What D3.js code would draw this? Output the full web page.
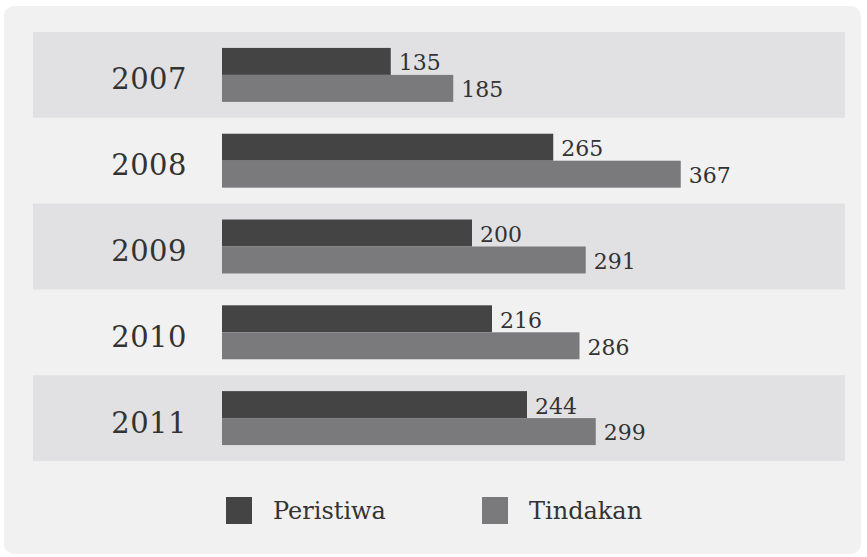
<!DOCTYPE html>
<html>
<head>
  <title>Peristiwa dan Tindakan 2007-2011</title>
  <style>
    body { margin: 0; background: #fff; }
    text { font-family: "DejaVu Serif", serif; fill: #333; }
  </style>
</head>
<body>
  <svg width="867" height="557"></svg>

  <script src="https://cdn.jsdelivr.net/npm/d3@7/dist/d3.min.js"></script>
  <script type="text/javascript">
    var years = ['2007', '2008', '2009', '2010', '2011']
    var series = ['Peristiwa', 'Tindakan']
    var peristiwa = [135, 265, 200, 216, 244]
    var tindakan = [185, 367, 291, 286, 299]
    var colors = ['#444444', '#7a7a7d']

    var svg = d3.select('svg')
    var values = [peristiwa, tindakan]

    // panel
    svg.append('rect')
      .attr('x', 4).attr('y', 6)
      .attr('width', 857).attr('height', 548)
      .attr('rx', 10)
      .attr('fill', '#f1f1f1')

    var y = d3.scaleBand().domain(years).range([32, 461])
    var inner = d3.scaleBand().domain(series).range([0, y.step()]).paddingOuter(0.59)
    var x = d3.scaleLinear().domain([0, 400]).range([222, 722])

    var rows = svg.selectAll('.row')
      .data(years).enter()
      .append('g')
      .attr('class', 'row')
      .attr('transform', d => 'translate(0,' + y(d) + ')')

    rows.filter((d, i) => i % 2 === 0)
      .append('rect')
      .attr('x', 33).attr('width', 812)
      .attr('height', y.bandwidth())
      .attr('fill', '#e1e1e3')

    rows.append('text')
      .attr('x', 187)
      .attr('y', y.bandwidth() / 2 + 4)
      .attr('dy', '0.36em')
      .attr('text-anchor', 'end')
      .attr('font-size', 29)
      .attr('letter-spacing', 0.5)
      .text(d => d)

    series.forEach((s, si) => {
      rows.append('rect')
        .attr('x', x(0))
        .attr('y', inner(s))
        .attr('height', inner.bandwidth())
        .attr('width', (d, i) => x(values[si][i]) - x(0))
        .attr('fill', colors[si])

      rows.append('text')
        .attr('x', (d, i) => x(values[si][i]) + 8)
        .attr('y', inner(s) + inner.bandwidth() / 2 + 1)
        .attr('dy', '0.36em')
        .attr('font-size', 22)
        .text((d, i) => values[si][i])
    })

    // legend
    var legend = svg.selectAll('.legend')
      .data(series).enter()
      .append('g')
      .attr('class', 'legend')
      .attr('transform', (d, i) => 'translate(' + [226, 482][i] + ',497)')

    legend.append('rect')
      .attr('width', 26).attr('height', 27)
      .attr('fill', (d, i) => colors[i])

    legend.append('text')
      .attr('x', 47)
      .attr('y', 13.5)
      .attr('dy', '0.36em')
      .attr('font-size', 24)
      .text(d => d)
  </script>
</body>
</html>
